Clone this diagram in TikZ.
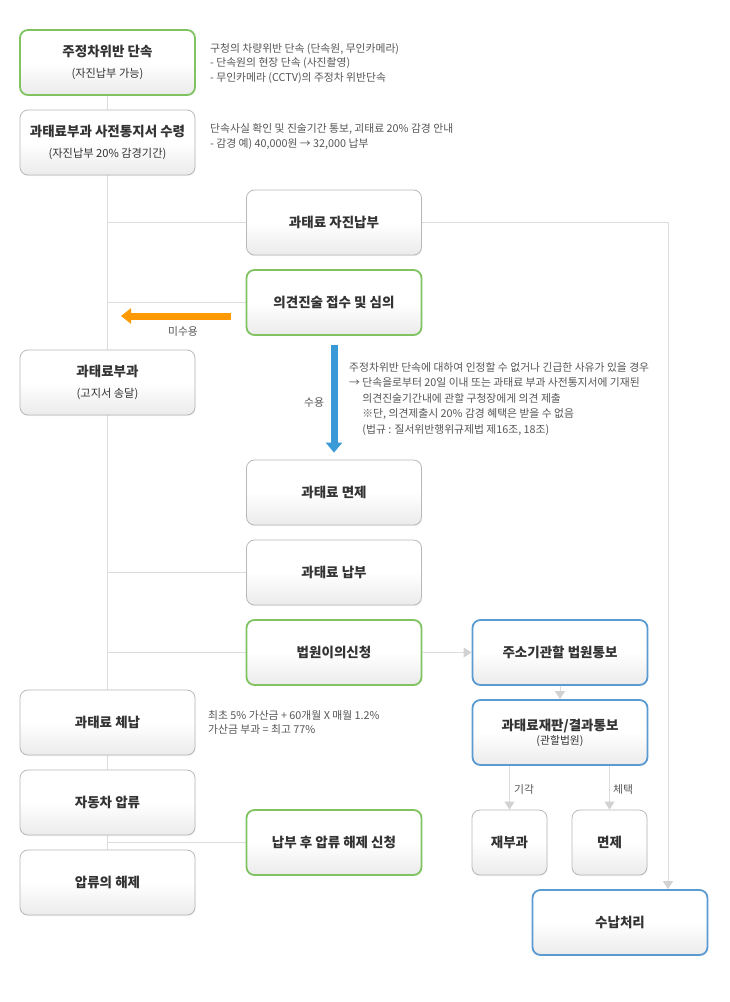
\documentclass[tikz,border=0pt]{standalone}
\usepackage{fontspec}
\setmainfont{Noto Sans CJK KR}
\usetikzlibrary{arrows.meta,shadows,calc}
\definecolor{gline}{HTML}{DCDCDC}
\definecolor{garrow}{HTML}{D2D2D2}
\definecolor{bordgray}{HTML}{B8B8B8}
\definecolor{grn}{HTML}{80C462}
\definecolor{blu}{HTML}{5B9BD2}
\definecolor{boxbot}{HTML}{EBEBEB}
\definecolor{txt}{HTML}{333333}
\definecolor{stxt}{HTML}{555555}
\definecolor{orng}{HTML}{FF9900}
\definecolor{bluar}{HTML}{3A9AD8}
\pgfdeclarelayer{background}
\pgfsetlayers{background,main}
\newcommand{\bxttl}{\fontsize{13.5}{15}\selectfont\bfseries\color{txt}}
\newcommand{\bxsub}{\fontsize{11.2}{13}\selectfont\mdseries\color{txt}}
\begin{document}
\begin{tikzpicture}[x=1pt,y=-1pt,
  box/.style={draw=bordgray, line width=0.8pt, rounded corners=8pt,
    minimum width=175pt, minimum height=65pt, inner sep=0pt, align=center,
    top color=white, bottom color=boxbot, middle color=white,
    font=\bxttl,
    drop shadow={opacity=0.12, shadow xshift=0.6pt, shadow yshift=-1.2pt}},
  greenbox/.style={box, draw=grn, line width=1.8pt},
  bluebox/.style={box, draw=blu, line width=1.8pt},
  smallbox/.style={box, minimum width=75pt},
  conn/.style={draw=gline, line width=0.9pt},
  garr/.style={conn, -{Triangle[width=10pt,length=8pt,color=garrow]}},
  note/.style={font=\fontsize{10.8}{14.8}\selectfont, text=stxt, align=left, inner sep=0pt},
  lbl/.style={font=\fontsize{10.8}{12}\selectfont, text=stxt, inner sep=0pt}
]
\useasboundingbox (0,0) rectangle (730,1002);

% left column
\node[greenbox] (b1) at (107.5,62.5) {주정차위반 단속\\[5.5pt]{\bxsub (자진납부 가능)}};
\node[box] (b2) at (107.5,142.5) {과태료부과 사전통지서 수령\\[5.5pt]{\bxsub (자진납부 20\% 감경기간)}};
\node[box] (impose) at (107.5,382.5) {과태료부과\\[5.5pt]{\bxsub (고지서 송달)}};
\node[box] (arrear) at (107.5,722.5) {과태료 체납};
\node[box] (seize) at (107.5,802.5) {자동차 압류};
\node[box] (unseize) at (107.5,882.5) {압류의 해제};

% middle column
\node[box] (pay0) at (334,222.5) {과태료 자진납부};
\node[greenbox] (opin) at (334,302.5) {의견진술 접수 및 심의};
\node[box] (exempt) at (334,492.5) {과태료 면제};
\node[box] (pay) at (334,572.5) {과태료 납부};
\node[greenbox] (court) at (334,652.5) {법원이의신청};
\node[greenbox] (release) at (334,842.5) {납부 후 압류 해제 신청};

% right column
\node[bluebox] (notify) at (560,652.5) {주소기관할 법원통보};
\node[bluebox] (trial) at (560,732.5) {과태료재판/결과통보\\[-1pt]{\fontsize{10.8}{12}\selectfont\mdseries\color{txt}(관할법원)}};
\node[smallbox] (reimp) at (509.5,842.5) {재부과};
\node[smallbox] (exempt2) at (609.5,842.5) {면제};
\node[bluebox] (done) at (620,922.5) {수납처리};

% connectors
\begin{pgfonlayer}{background}
\draw[conn] (b1.south) -- (unseize.north);
\draw[conn] (b1.south |- pay0.west) -- (pay0.west);
\draw[conn] (b1.south |- opin.west) -- (opin.west);
\draw[conn] (b1.south |- pay.west) -- (pay.west);
\draw[conn] (b1.south |- court.west) -- (court.west);
\draw[conn] (b1.south |- release.west) -- (release.west);
\end{pgfonlayer}
\draw[garr] (pay0.east) -| ([xshift=48pt]done.north);
\draw[garr] (court.east) -- (notify.west);
\draw[garr] (notify.south) -- (trial.north);
\draw[garr] (reimp.north |- trial.south) -- (reimp.north);
\draw[garr] (exempt2.north |- trial.south) -- (exempt2.north);

% orange and blue arrows
\coordinate (oa) at (231,316);
\coordinate (ob) at (121,316);
\draw[orng, line width=7pt, -{Triangle[width=15pt,length=10pt]}] (oa) -- (ob);
\draw[bluar, line width=7pt, -{Triangle[width=16pt,length=10pt]}] ([yshift=-9pt]opin.south) -- ([yshift=7pt]exempt.north);

% labels
\node[lbl] (l1) at (183,331) {미수용};
\node[lbl] (l2) at (314,403) {수용};
\node[lbl] (l3) at (524,789) {기각};
\node[lbl] (l4) at (623,789) {체택};

% notes
\node[note, anchor=west] (n1) at (210,63.5) {구청의 차량위반 단속 (단속원, 무인카메라)\\- 단속원의 현장 단속 (사진촬영)\\- 무인카메라 (CCTV)의 주정차 위반단속};
\node[note, anchor=west] (n2) at (210,136.5) {단속사실 확인 및 진술기간 통보, 괴태료 20\% 감경 안내\\- 감경 예) 40,000원 → 32,000 납부};
\node[note, anchor=west, font=\fontsize{10.8}{15.5}\selectfont] (n3) at (349,399) {주정차위반 단속에 대하여 인정할 수 없거나 긴급한 사유가 있을 경우\\→ 단속을로부터 20일 이내 또는 과태료 부과 사전통지서에 기재된\\\phantom{→ }의견진술기간내에 관할 구청장에게 의견 제출\\\phantom{→ }※단, 의견제출시 20\% 감경 혜택은 받을 수 없음\\\phantom{→ }(법규 : 질서위반행위규제법 제16조, 18조)};
\node[note, anchor=west] (n4) at (208,722.5) {최초 5\% 가산금 + 60개월 X 매월 1.2\%\\가산금 부과 = 최고 77\%};
\end{tikzpicture}
\end{document}
